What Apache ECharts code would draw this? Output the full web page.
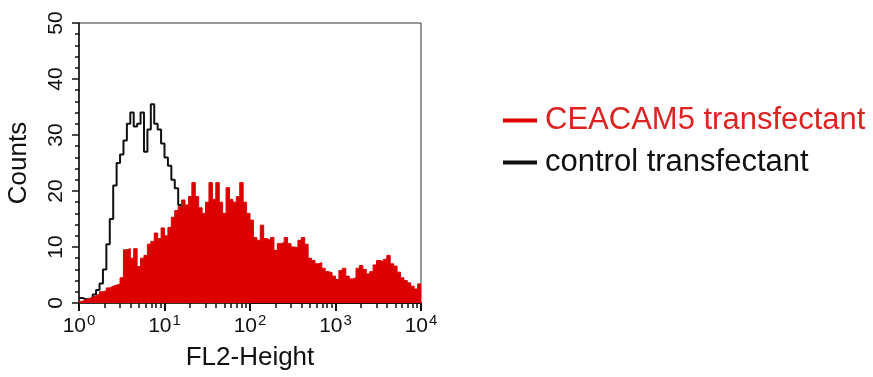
<!DOCTYPE html>
<html>
<head>
<meta charset="utf-8">
<script src="https://cdn.jsdelivr.net/npm/echarts@6/dist/echarts.min.js"></script>
<style>
  html, body { margin: 0; padding: 0; background: #fff; }
  #main { width: 873px; height: 377px; }
</style>
</head>
<body>
<div id="main"></div>
<script>
var chartDom = document.getElementById('main');
var myChart = echarts.init(chartDom);
var option;

// histogram channels: 25 per decade, 10^0 .. 10^4
var binsPerDecade = 25;

var controlCounts = [
    0.9, 0.7, 0.6, 0.9, 1.5, 2.3, 3.5, 6, 10.5, 15,
    21, 25, 26.5, 29, 32, 34, 31.5, 32, 34, 27,
    31, 35.5, 32, 31, 28.5, 26, 24.5, 22, 20.5, 17.5,
    15, 13, 11, 9, 7.5, 6, 5, 4, 3, 2.5,
    2, 1.5, 1.2, 1, 0.8, 0.6, 0.5, 0.4, 0.3, 0.2,
    0, 0, 0, 0, 0, 0, 0, 0, 0, 0,
    0, 0, 0, 0, 0, 0, 0, 0, 0, 0,
    0, 0, 0, 0, 0, 0, 0, 0, 0, 0,
    0, 0, 0, 0, 0, 0, 0, 0, 0, 0,
    0, 0, 0, 0, 0, 0, 0, 0, 0, 0
];

var ceacamCounts = [
    0.3, 0.6, 0.8, 1, 1.3, 1.6, 2, 2.2, 2.7, 3,
    3.2, 3.4, 4.5, 9.5, 9.7, 8, 9.7, 6.5, 8, 8.5,
    10.5, 11, 12.5, 11.5, 13.4, 12, 13.5, 15.3, 16.5, 17.2,
    18.4, 17.5, 19, 21.5, 19, 17, 16, 18, 21.5, 18.5,
    21.5, 18, 16, 20.6, 18.5, 18, 19, 21.5, 18, 16,
    14.8, 11.7, 11.2, 13.9, 11.5, 11.2, 11.7, 9.4, 10.6, 10.8,
    11.7, 10.6, 10, 9.9, 11.2, 11.7, 10.5, 8, 7.6, 7,
    7.2, 6.2, 5.6, 5.4, 4.8, 4.2, 5.8, 6.2, 4.8, 4.3,
    4.5, 6.2, 6.7, 6, 5.2, 5.6, 6.8, 7.6, 7.4, 7.8,
    8.5, 7, 6.6, 5.5, 4.5, 4, 3.6, 3, 2.5, 3.4
];

var majorTicks = [1, 10, 100, 1000, 10000];
var minorTicks = [];
majorTicks.slice(0, 4).forEach(function (d) {
    for (var k = 2; k <= 9; k++) minorTicks.push(d * k);
});

function toSteps(counts) {
    var pts = counts.map(function (c, i) {
        return [Math.pow(10, i / binsPerDecade), c];
    });
    pts.push([Math.pow(10, counts.length / binsPerDecade), counts[counts.length - 1]]);
    return pts;
}

var fontFamily = 'Liberation Sans, Arial, sans-serif';

option = {
    animation: false,
    textStyle: { fontFamily: fontFamily },
    grid: {
        left: 79,
        right: 452,
        top: 23,
        bottom: 74,
        outerBoundsMode: 'none',
        containLabel: false,
        show: true,
        borderColor: '#333',
        borderWidth: 1
    },
    legend: {
        orient: 'vertical',
        left: 498,
        top: 100,
        itemWidth: 34,
        itemHeight: 4,
        itemGap: 11,
        icon: 'rect',
        textStyle: { fontSize: 31, fontFamily: fontFamily, padding: [0, 0, 0, 3] },
        data: [
            { name: 'CEACAM5 transfectant', textStyle: { color: '#dd2222' } },
            { name: 'control transfectant', textStyle: { color: '#111' } }
        ]
    },
    xAxis: [
        {
            type: 'log',
            logBase: 10,
            min: 1,
            max: 10000,
            name: 'FL2-Height',
            nameLocation: 'middle',
            nameGap: 42,
            nameTextStyle: { fontSize: 26, color: '#111' },
            axisLine: { lineStyle: { color: '#111', width: 1.5 } },
            axisTick: { show: true, length: 8, lineStyle: { color: '#111', width: 2 } },
            splitLine: { show: false },
            axisLabel: {
                margin: 10,
                color: '#111',
                formatter: function (v) {
                    return '{b|10}{sup|' + Math.round(Math.log10(v)) + '}';
                },
                rich: {
                    b: { fontSize: 21, color: '#111', fontFamily: fontFamily },
                    sup: { fontSize: 15, color: '#111', fontFamily: fontFamily, padding: [0, 0, 12, 1] }
                }
            }
        },
        {
            type: 'log',
            logBase: 10,
            min: 1,
            max: 10000,
            position: 'bottom',
            axisLine: { show: false },
            axisLabel: { show: false },
            splitLine: { show: false },
            axisTick: {
                show: true,
                length: 5,
                customValues: minorTicks,
                lineStyle: { color: '#111', width: 1.5 }
            }
        }
    ],
    yAxis: {
        type: 'value',
        min: 0,
        max: 50,
        interval: 10,
        name: 'Counts',
        nameLocation: 'middle',
        nameGap: 47,
        nameRotate: 90,
        nameTextStyle: { fontSize: 26, color: '#111' },
        axisLine: { show: true, lineStyle: { color: '#111', width: 1.5 } },
        axisTick: { show: true, length: 7, lineStyle: { color: '#111', width: 1.5 } },
        minorTick: { show: true, splitNumber: 5, length: 4, lineStyle: { color: '#111', width: 1.5 } },
        splitLine: { show: false },
        axisLabel: { rotate: 90, fontSize: 21, color: '#111', margin: 12 }
    },
    series: [
        {
            name: 'control transfectant',
            type: 'line',
            step: 'end',
            symbol: 'none',
            z: 2,
            color: '#111',
            lineStyle: { color: '#111', width: 2 },
            data: toSteps(controlCounts)
        },
        {
            name: 'CEACAM5 transfectant',
            type: 'line',
            step: 'end',
            symbol: 'none',
            z: 3,
            color: '#dd0000',
            lineStyle: { color: '#dd0000', width: 1 },
            areaStyle: { color: '#dd0000', opacity: 1 },
            data: toSteps(ceacamCounts)
        }
    ]
};

option && myChart.setOption(option);
</script>
</body>
</html>
